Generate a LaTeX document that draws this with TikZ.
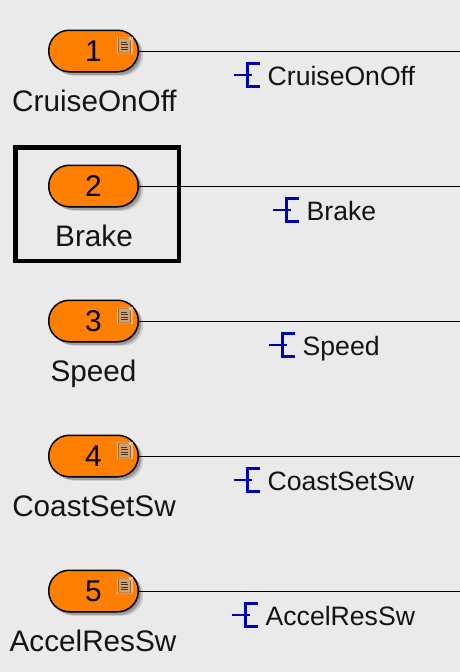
\documentclass[tikz,border=0pt]{standalone}
\usepackage{fontspec}
\setmainfont{Liberation Sans}
\usepackage{xcolor}
\usetikzlibrary{shadows}
\definecolor{panelgray}{HTML}{EAEAEA}
\definecolor{portorange}{HTML}{FF8000}
\definecolor{signalblue}{HTML}{0000B4}
\definecolor{icontan}{HTML}{CFA272}
\definecolor{iconglow}{HTML}{FBB56A}

\begin{document}
\begin{tikzpicture}[
  x=1pt, y=-1pt,
  port/.style={draw=black, line width=1.5pt, fill=portorange, rounded corners=20.5pt,
    minimum width=89.5pt, minimum height=41.5pt, inner sep=0pt,
    font=\fontsize{30}{30}\selectfont,
    drop shadow={shadow xshift=2pt, shadow yshift=-1pt, fill=black, opacity=.12},
    drop shadow={shadow xshift=3pt, shadow yshift=-3pt, fill=black, opacity=.22},
    drop shadow={shadow xshift=5pt, shadow yshift=-4pt, fill=black, opacity=.12}},
  portname/.style={inner sep=0pt, anchor=base, font=\fontsize{29.7}{30}\selectfont, text=black!92},
  signame/.style={inner sep=0pt, anchor=base west, font=\fontsize{26.6}{28}\selectfont, text=black!92},
  wire/.style={draw=black, line width=1pt},
  note/.pic={
    \fill[iconglow] (-8,-8.5) rectangle (8,8.5);
    \fill[icontan, draw=brown!80!black, line width=.6pt] (-6,-7.5) -- (4,-7.5) -- (6,-5) -- (6,7.5) -- (-6,7.5) -- cycle;
    \fill[white] (4,-7.5) -- (6,-7.5) -- (6,-5) -- cycle;
    \draw[brown!40!black, line width=.9pt] (-3.5,-3.5) -- (2,-3.5) (-3.5,-1) -- (3.5,-1) (-3.5,1.5) -- (3.5,1.5) (-3.5,4) -- (3.5,4);
  },
  branch/.pic={
    \draw[signalblue, line width=2.8pt] (-34,0) -- (-16,0) (-8,-11.5) -- (-20,-11.5) -- (-20,11.5) -- (-8,11.5);
  }
]
\fill[panelgray] (0,0) rectangle (460,672);
\useasboundingbox (0,0) rectangle (460,672);

% inports
\node[port] (p1) at (93.5,51) {1};
\node[port] (p2) at (93.5,186) {2};
\node[port] (p3) at (93.5,321) {3};
\node[port] (p4) at (93.5,456) {4};
\node[port] (p5) at (93.5,591) {5};

\node[portname] (n1) at (94.5,111) {CruiseOnOff};
\node[portname] (n2) at (94,246) {Brake};
\node[portname] (n3) at (93.5,381) {Speed};
\node[portname] (n4) at (94,516) {CoastSetSw};
\node[portname] (n5) at (93,651) {AccelResSw};

\pic at (124.5,45.5) {note};
\pic at (124.5,315.5) {note};
\pic at (124.5,450.5) {note};
\pic at (124.5,585.5) {note};

% wires
\coordinate (e1) at (460,51);
\coordinate (e2) at (460,186);
\coordinate (e3) at (460,321);
\coordinate (e4) at (460,456);
\coordinate (e5) at (460,591);
\draw[wire] (p1.east) -- (e1);
\draw[wire] (p2.east) -- (e2);
\draw[wire] (p3.east) -- (e3);
\draw[wire] (p4.east) -- (e4);
\draw[wire] (p5.east) -- (e5);

\node[signame] (s1) at (267.5,85) {CruiseOnOff};
\node[signame] (s2) at (306.5,220) {Brake};
\node[signame] (s3) at (302.5,355) {Speed};
\node[signame] (s4) at (267.5,490) {CoastSetSw};
\node[signame] (s5) at (265.5,625) {AccelResSw};

\pic at (s1.west |- 0,75) {branch};
\pic at (s2.west |- 0,210) {branch};
\pic at (s3.west |- 0,345) {branch};
\pic at (s4.west |- 0,480) {branch};
\pic at (s5.west |- 0,615) {branch};

% highlight
\node[draw=black, line width=4.5pt, minimum width=163.5pt, minimum height=113.5pt, inner sep=0pt] (hl) at (97,204) {};
\end{tikzpicture}
\end{document}
